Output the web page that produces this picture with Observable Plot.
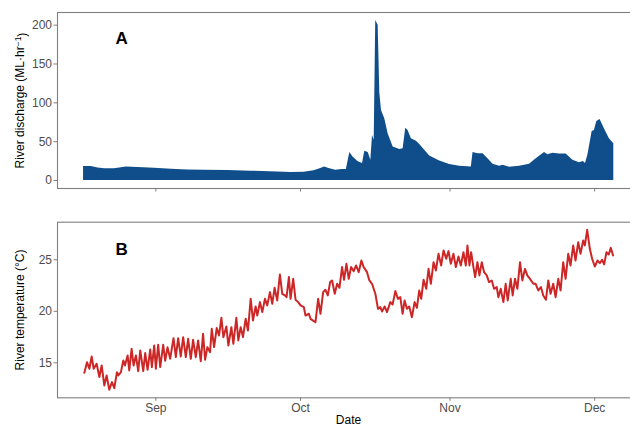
<!DOCTYPE html>
<html><head><meta charset="utf-8">
<script src="https://cdn.jsdelivr.net/npm/d3@7"></script>
<script src="https://cdn.jsdelivr.net/npm/@observablehq/plot@0.6"></script>
<style>
html,body{margin:0;padding:0;overflow:hidden;background:#fff;width:630px;height:426px}
#a,#b{display:block;width:640px}
svg{display:block}
</style></head><body><div id="a"></div><div id="b"></div>
<script>
// Days since 1 September (UTC) and river discharge (ML/hr)
const qDay = [-15,-13.4,-12,-10.6,-8.6,-6.1,-3.7,-0.3,3.2,6.6,10.1,14.9,19.7,25.2,28,30.7,32.8,34.2,35,35.9,37.3,38.6,39.5,40.23,40.93,41.97,42.86,43.33,44.04,44.58,44.93,45.28,45.6,46.1,46.44,46.79,47.47,48.18,49.21,50.58,51.28,51.82,52.3,53.0,54.04,54.72,56.79,58.86,60.93,63.0,65.42,65.78,66.81,67.85,68.88,69.92,71.28,71.99,73.35,75.42,77.49,78.88,80.6,81.3,82.34,83.71,85.09,86.48,87.85,88.68,89.1,89.59,90.48,90.95,91.45,92.13,93.02,94.06,94.97];
const qVal = [18,18,16.2,15,15,17.5,16.6,15.8,14.5,13.6,13.2,12.8,12,11.1,10.3,10.7,12.4,15.4,17.5,15.4,13.2,14.1,14.1,35.9,30,24,21.8,37.5,36,26,58,51.7,206,200,113,90,79.5,60,43,40,41,67.4,64.5,53.8,50.4,46.2,31.6,25.1,20.5,18.3,17.4,36,34.6,34.6,28,21,18.3,19.5,17,18.3,21,28,36,33,35,34,34,26,23,24.5,22,32.4,63,64.5,76,78.6,66.7,53.8,47.4];

// Days since 1 September (UTC) and river temperature (°C)
const tDay = [-14.83,-14.28,-13.79,-13.31,-12.90,-12.28,-11.72,-11.24,-10.69,-10.21,-9.66,-9.10,-8.62,-8.07,-7.79,-7.24,-6.76,-6.41,-5.86,-5.52,-5.03,-4.62,-4.14,-3.66,-3.24,-2.62,-2.21,-1.72,-1.17,-0.83,-0.34,0.00,0.48,0.90,1.52,1.93,2.41,2.97,3.66,4.14,4.62,5.17,5.66,6.21,6.69,7.24,7.72,8.28,8.76,9.31,9.79,10.21,10.69,11.24,11.59,12.07,12.62,13.10,13.59,14.00,14.62,15.03,15.66,16.07,16.69,17.10,17.59,18.07,18.62,19.10,19.66,20.14,20.69,21.03,21.59,22.07,22.62,23.10,23.66,24.14,24.62,25.17,25.72,26.21,26.76,27.10,27.59,27.93,28.48,28.97,29.52,30.00,30.69,31.03,31.72,32.07,32.76,
33.10,33.66,34.14,34.69,35.17,35.66,36.14,36.55,37.10,37.59,38.07,38.62,39.03,39.52,40.00,40.48,41.03,41.52,42.07,42.62,43.10,43.79,44.28,44.83,45.52,46.07,46.55,46.90,47.45,47.93,48.62,49.10,49.66,50.21,50.69,51.17,51.59,52.07,52.55,53.10,53.66,54.14,54.62,55.03,55.52,56.07,56.55,57.03,57.59,58.07,58.62,59.17,59.66,60.21,60.69,61.17,61.72,62.21,62.76,63.24,63.79,64.28,64.62,65.03,65.38,65.86,66.21,66.69,67.10,67.59,68.07,68.62,69.10,69.66,70.14,70.69,71.03,71.52,72.07,72.55,72.97,73.59,74.00,74.48,74.97,75.52,76.00,76.55,77.03,77.59,78.28,78.76,79.31,79.86,80.34,80.90,81.38,81.86,82.41,82.90,83.45,83.93,84.48,84.97,85.52,86.00,86.55,87.03,87.59,88.07,88.62,88.97,89.45,90.00,90.48,91.03,91.59,92.07,92.55,92.97,93.45,93.93,94.34,94.83];
const tVal = [14.03,15.06,14.42,15.61,14.42,14.90,13.61,14.74,12.80,13.77,12.38,13.12,12.54,14.09,13.77,14.09,15.23,14.74,15.71,14.26,16.36,14.74,15.71,14.19,16.20,14.19,15.94,14.32,16.29,14.58,16.68,14.42,16.75,14.58,16.75,15.2,16.5,15.4,17.39,15.55,17.39,15.61,17.49,15.55,17.33,15.39,17.23,15.55,17.17,15.16,17.81,15.29,16.52,16.03,18.30,16.52,18.37,17.65,19.37,17.49,18.53,16.68,18.46,16.84,19.37,17.17,18.46,17.49,19.27,18.14,21.21,19.11,20.47,19.59,20.89,19.92,21.21,20.57,21.86,20.73,22.28,21.05,23.58,21.70,21.54,21.37,23.32,21.21,23.15,21.12,20.89,20.57,20.40,19.59,19.76,19.27,19.05,
18.95,21.21,19.76,21.86,22.09,21.54,22.83,22.99,21.70,22.67,22.28,24.29,23.06,24.61,23.15,24.29,23.90,24.45,23.80,24.93,24.29,23.80,22.99,22.67,21.70,20.24,20.40,19.98,20.47,19.92,20.89,20.66,21.96,21.21,21.37,19.76,21.05,20.24,20.47,19.43,20.89,20.34,22.02,21.21,23.06,22.18,24.12,22.67,24.77,23.96,25.58,24.45,25.91,25.10,25.84,24.61,25.58,24.29,25.32,24.45,25.74,24.45,26.39,24.45,25.74,24.29,23.32,24.77,23.48,24.77,23.80,23.48,22.83,22.99,22.18,22.35,21.37,22.18,20.89,22.67,21.05,23.15,21.54,23.15,22.18,24.77,22.99,24.12,23.48,23.15,22.67,22.67,22.02,22.35,21.54,21.12,22.99,21.70,22.67,21.37,23.15,22.02,24.77,23.15,25.58,24.45,26.39,24.93,26.71,25.58,26.88,26.39,27.91,26.07,25.10,24.35,24.93,24.68,25.00,24.55,25.74,25.52,26.16,25.42];

const qTicks = [0, 50, 100, 150, 200];
const tTicks = [15, 20, 25];
const monthTicks = [Date.UTC(2018,8,1), Date.UTC(2018,9,1), Date.UTC(2018,10,1), Date.UTC(2018,11,1)].map(t => new Date(t));

const base = Date.UTC(2018, 8, 1);
const toDate = d => new Date(base + d * 864e5);
const qData = qDay.map((d, i) => ({date: toDate(d), q: qVal[i]}));
const tData = tDay.map((d, i) => ({date: toDate(d), t: tVal[i]}));

const xDomain = [toDate(-20.4), toDate(100.3)];
const font = "'Liberation Sans', Arial, Helvetica, sans-serif";
const gray = "#7f7f7f";
const common = {
  width: 640, marginLeft: 57, marginRight: 1,
  style: {fontFamily: font, fontSize: "12px", color: "#4d4d4d", background: "white", maxWidth: "none"},
  x: {type: "utc", domain: xDomain}
};

const A = Plot.plot({
  ...common, height: 200, marginTop: 12, marginBottom: 12,
  y: {domain: [-10.3, 216.3]},
  marks: [
    Plot.areaY(qData, {x: "date", y: "q", fill: "#104E8B"}),
    Plot.frame({stroke: gray, strokeWidth: 1.1}),
    Plot.axisX({ticks: monthTicks, tickSize: 3.5, tickFormat: () => "", stroke: gray}),
    Plot.axisY({ticks: qTicks, tickSize: 3.5, tickPadding: 2, label: null, stroke: gray}),
    Plot.text(["River discharge (ML·hr-1)"], {frameAnchor: "left", textAnchor: "middle", lineAnchor: "middle", dx: -37, rotate: -90, fill: "black", fontSize: 12}),
    Plot.text(["A"], {x: toDate(-7.1), y: 182.4, fill: "black", fontWeight: "bold", fontSize: 17})
  ]
});

const B = Plot.plot({
  ...common, height: 226, marginTop: 21.7, marginBottom: 28.7,
  y: {domain: [11.6, 28.65]},
  marks: [
    Plot.line(tData, {x: "date", y: "t", stroke: "#CD2626", strokeWidth: 2, strokeLinejoin: "round"}),
    Plot.frame({stroke: gray, strokeWidth: 1.1}),
    Plot.axisX({ticks: monthTicks, tickSize: 3.5, tickPadding: 2, tickFormat: d3.utcFormat("%b"), label: null, stroke: gray}),
    Plot.axisY({ticks: tTicks, tickSize: 3.5, tickPadding: 2, label: null, stroke: gray}),
    Plot.text(["River temperature (°C)"], {frameAnchor: "left", textAnchor: "middle", lineAnchor: "middle", dx: -37, rotate: -90, fill: "black", fontSize: 12}),
    Plot.text(["Date"], {frameAnchor: "bottom", textAnchor: "middle", lineAnchor: "middle", dy: 22.3, fill: "black", fontSize: 12}),
    Plot.text(["B"], {x: toDate(-7.1), y: 26.0, fill: "black", fontWeight: "bold", fontSize: 17})
  ]
});

document.getElementById("a").appendChild(A);
document.getElementById("b").appendChild(B);

// superscript in discharge unit
const ns = "http://www.w3.org/2000/svg";
const t = [...A.querySelectorAll("text")].find(e => e.textContent.includes("hr-1"));
if (t) {
  t.textContent = "";
  const parts = [["River discharge (ML·hr", null, null], ["−1", "-0.45em", "8.5px"], [")", "0.45em", "12px"]];
  for (const [s, dy, fs] of parts) {
    const sp = document.createElementNS(ns, "tspan");
    sp.textContent = s;
    if (dy) sp.setAttribute("dy", dy);
    if (fs) sp.setAttribute("font-size", fs);
    t.appendChild(sp);
  }
}
</script></body></html>
